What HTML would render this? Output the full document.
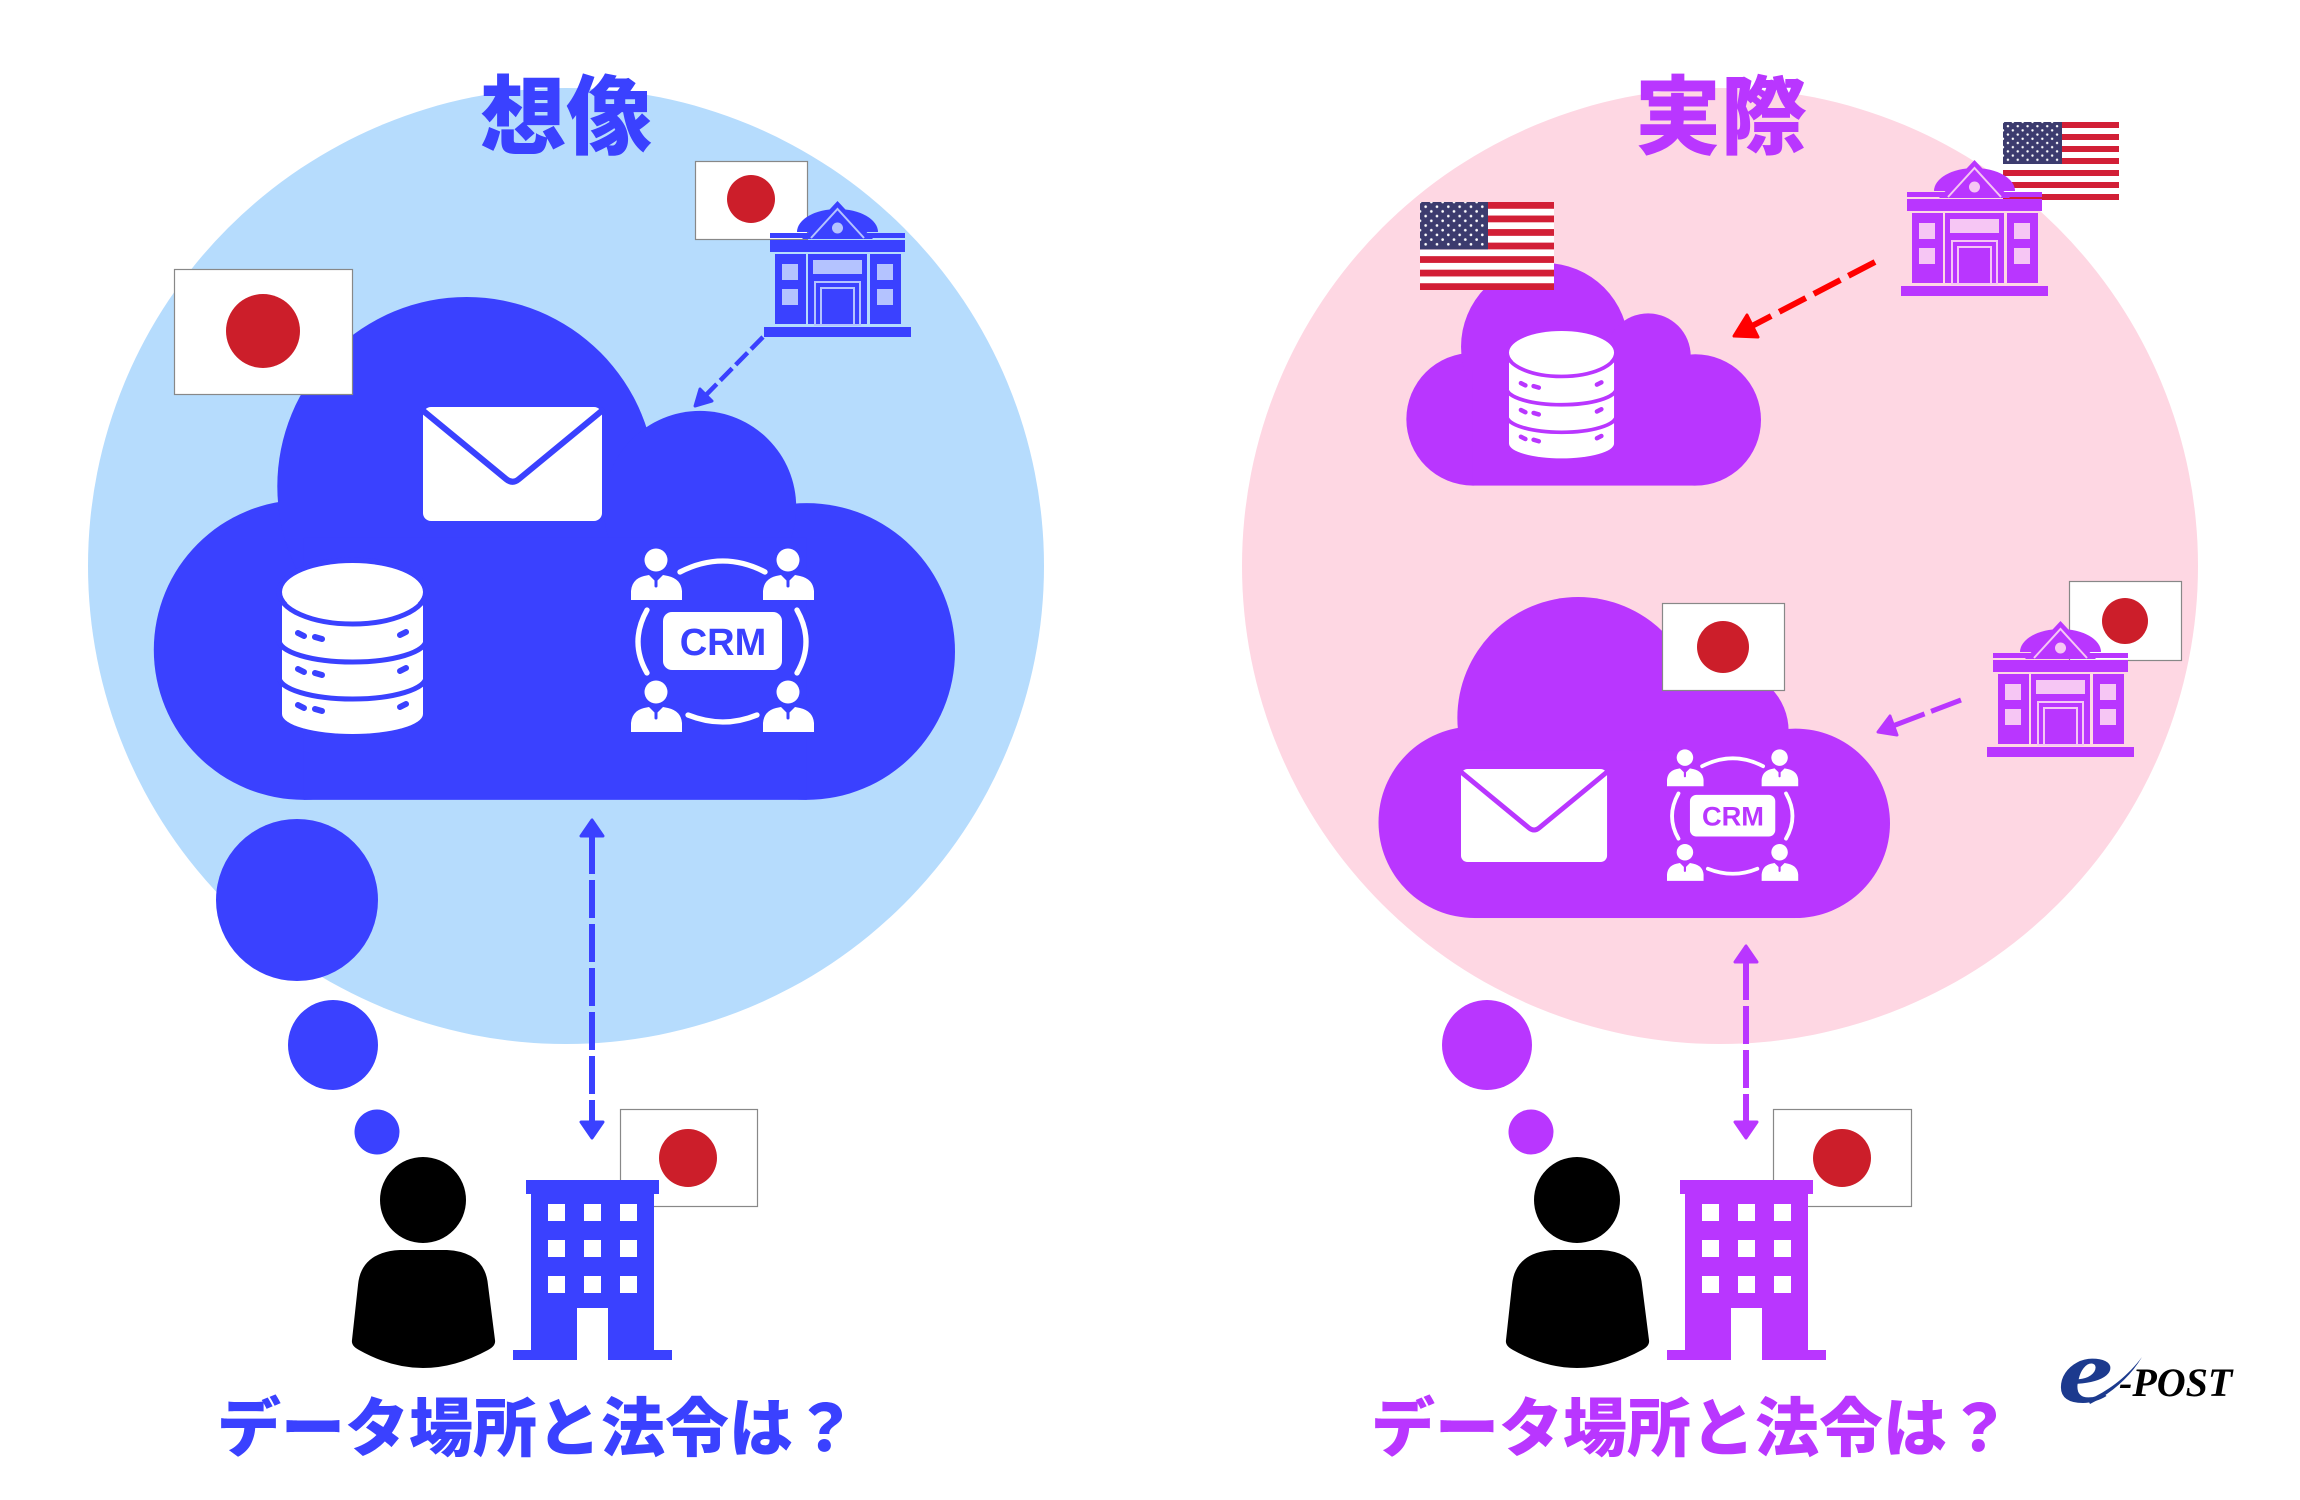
<!DOCTYPE html>
<html><head><meta charset="utf-8">
<style>
html,body{margin:0;padding:0;background:#fff;width:2300px;height:1500px;overflow:hidden;}
svg{display:block}
</style></head>
<body>
<svg width="2300" height="1500" viewBox="0 0 2300 1500" xmlns="http://www.w3.org/2000/svg">
<defs>
  <pattern id="st1" patternUnits="userSpaceOnUse" x="1422.83" y="204.35" width="11.33" height="9.4">
    <circle cx="2.83" cy="2.35" r="1.3" fill="#fff"/>
    <circle cx="8.5" cy="7.05" r="1.3" fill="#fff"/>
  </pattern>
  <pattern id="st2" patternUnits="userSpaceOnUse" x="2005.46" y="124.1" width="9.83" height="8.4">
    <circle cx="2.46" cy="2.1" r="1.2" fill="#fff"/>
    <circle cx="7.37" cy="6.3" r="1.2" fill="#fff"/>
  </pattern>
</defs>

<!-- background circles -->
<circle cx="566" cy="566" r="478" fill="#b6dcfd"/>
<circle cx="1720" cy="566" r="478" fill="#fed7e3"/>

<!-- titles -->
<text x="566" y="147" text-anchor="middle" font-family="'Liberation Sans','Noto Sans CJK JP',sans-serif" font-weight="900" font-size="86" fill="#3a41ff">想像</text>
<text x="1721" y="147" text-anchor="middle" font-family="'Liberation Sans','Noto Sans CJK JP',sans-serif" font-weight="900" font-size="86" fill="#b936ff">実際</text>

<!-- blue cloud -->
<g transform="translate(153,297) scale(0.802)" fill="#3a41ff">
  <circle cx="188" cy="440" r="187"/>
  <circle cx="815" cy="442" r="185"/>
  <circle cx="391" cy="236" r="236"/>
  <circle cx="682" cy="262" r="120"/>
  <rect x="188" y="300" width="627" height="327"/>
</g>
<!-- pink top cloud -->
<g transform="translate(1406,263) scale(0.355)" fill="#b936ff">
  <circle cx="188" cy="440" r="187"/>
  <circle cx="815" cy="442" r="185"/>
  <circle cx="391" cy="236" r="236"/>
  <circle cx="682" cy="262" r="120"/>
  <rect x="188" y="300" width="627" height="327"/>
</g>
<!-- pink bottom cloud -->
<g transform="translate(1378,597) scale(0.512)" fill="#b936ff">
  <circle cx="188" cy="440" r="187"/>
  <circle cx="815" cy="442" r="185"/>
  <circle cx="391" cy="236" r="236"/>
  <circle cx="682" cy="262" r="120"/>
  <rect x="188" y="300" width="627" height="327"/>
</g>

<!-- envelope blue -->
<g transform="translate(423,407)">
  <rect x="0" y="0" width="179" height="114" rx="8" fill="#fff"/>
  <path d="M-2 2 L83 72 Q89.5 77.5 96 72 L181 2" stroke="#3a41ff" stroke-width="6" fill="none"/>
</g>
<!-- envelope pink -->
<g transform="translate(1461,769) scale(0.816)">
  <rect x="0" y="0" width="179" height="114" rx="8" fill="#fff"/>
  <path d="M-2 2 L83 72 Q89.5 77.5 96 72 L181 2" stroke="#b936ff" stroke-width="6" fill="none"/>
</g>

<!-- database blue -->
<g transform="translate(282,563)">
  <path d="M0 40 L0 151 A70.5 20 0 0 0 141 151 L141 40 Z" fill="#fff"/>
  <ellipse cx="70.5" cy="29" rx="70.5" ry="29" fill="#fff"/>
  <g fill="none" stroke="#3a41ff" stroke-width="5">
    <ellipse cx="70.5" cy="29" rx="73.5" ry="32"/>
    <path d="M-3 77 A73.5 22 0 0 0 144 77"/>
    <path d="M-3 114 A73.5 22 0 0 0 144 114"/>
  </g>
  <g stroke="#3a41ff" stroke-width="6" stroke-linecap="round">
    <line x1="16" y1="70" x2="22" y2="73"/><line x1="33" y1="74" x2="40" y2="76"/><line x1="118" y1="72" x2="124" y2="69"/>
    <line x1="16" y1="106" x2="22" y2="109"/><line x1="33" y1="110" x2="40" y2="112"/><line x1="118" y1="108" x2="124" y2="105"/>
    <line x1="16" y1="142" x2="22" y2="145"/><line x1="33" y1="146" x2="40" y2="148"/><line x1="118" y1="144" x2="124" y2="141"/>
  </g>
</g>
<!-- database pink -->
<g transform="translate(1509,331) scale(0.745)">
  <path d="M0 40 L0 151 A70.5 20 0 0 0 141 151 L141 40 Z" fill="#fff"/>
  <ellipse cx="70.5" cy="29" rx="70.5" ry="29" fill="#fff"/>
  <g fill="none" stroke="#b936ff" stroke-width="5">
    <ellipse cx="70.5" cy="29" rx="73.5" ry="32"/>
    <path d="M-3 77 A73.5 22 0 0 0 144 77"/>
    <path d="M-3 114 A73.5 22 0 0 0 144 114"/>
  </g>
  <g stroke="#b936ff" stroke-width="6" stroke-linecap="round">
    <line x1="16" y1="70" x2="22" y2="73"/><line x1="33" y1="74" x2="40" y2="76"/><line x1="118" y1="72" x2="124" y2="69"/>
    <line x1="16" y1="106" x2="22" y2="109"/><line x1="33" y1="110" x2="40" y2="112"/><line x1="118" y1="108" x2="124" y2="105"/>
    <line x1="16" y1="142" x2="22" y2="145"/><line x1="33" y1="146" x2="40" y2="148"/><line x1="118" y1="144" x2="124" y2="141"/>
  </g>
</g>

<!-- CRM blue -->
<g transform="translate(631,548)">
  <g fill="#fff">
    <circle cx="25" cy="12" r="11.5"/>
    <path d="M0 52 L0 43 Q1 31 13 28 L18 27 L25 34 L32 27 L37 28 Q50 31 51 43 L51 52 Z"/>
    <g transform="translate(132,0)"><circle cx="25" cy="12" r="11.5"/><path d="M0 52 L0 43 Q1 31 13 28 L18 27 L25 34 L32 27 L37 28 Q50 31 51 43 L51 52 Z"/></g>
    <g transform="translate(0,132)"><circle cx="25" cy="12" r="11.5"/><path d="M0 52 L0 43 Q1 31 13 28 L18 27 L25 34 L32 27 L37 28 Q50 31 51 43 L51 52 Z"/></g>
    <g transform="translate(132,132)"><circle cx="25" cy="12" r="11.5"/><path d="M0 52 L0 43 Q1 31 13 28 L18 27 L25 34 L32 27 L37 28 Q50 31 51 43 L51 52 Z"/></g>
    <rect x="32" y="64" width="119" height="58" rx="9"/>
  </g>
  <g stroke="#3a41ff" stroke-width="3" stroke-linecap="round">
    <line x1="25" y1="33" x2="25" y2="38"/><line x1="157" y1="33" x2="157" y2="38"/>
    <line x1="25" y1="165" x2="25" y2="170"/><line x1="157" y1="165" x2="157" y2="170"/>
  </g>
  <g fill="none" stroke="#fff" stroke-width="5.3" stroke-linecap="round">
    <path d="M49 24 Q92 2 134 24"/>
    <path d="M57 167 Q92 181 126 167"/>
    <path d="M16 62 Q-2 94 16 125"/>
    <path d="M166 62 Q184 94 166 125"/>
  </g>
  <text x="92" y="107" text-anchor="middle" font-family="'Liberation Sans',sans-serif" font-weight="bold" font-size="38" fill="#3a41ff">CRM</text>
</g>
<!-- CRM pink -->
<g transform="translate(1667,749) scale(0.717)">
  <g fill="#fff">
    <circle cx="25" cy="12" r="11.5"/>
    <path d="M0 52 L0 43 Q1 31 13 28 L18 27 L25 34 L32 27 L37 28 Q50 31 51 43 L51 52 Z"/>
    <g transform="translate(132,0)"><circle cx="25" cy="12" r="11.5"/><path d="M0 52 L0 43 Q1 31 13 28 L18 27 L25 34 L32 27 L37 28 Q50 31 51 43 L51 52 Z"/></g>
    <g transform="translate(0,132)"><circle cx="25" cy="12" r="11.5"/><path d="M0 52 L0 43 Q1 31 13 28 L18 27 L25 34 L32 27 L37 28 Q50 31 51 43 L51 52 Z"/></g>
    <g transform="translate(132,132)"><circle cx="25" cy="12" r="11.5"/><path d="M0 52 L0 43 Q1 31 13 28 L18 27 L25 34 L32 27 L37 28 Q50 31 51 43 L51 52 Z"/></g>
    <rect x="32" y="64" width="119" height="58" rx="9"/>
  </g>
  <g stroke="#b936ff" stroke-width="3" stroke-linecap="round">
    <line x1="25" y1="33" x2="25" y2="38"/><line x1="157" y1="33" x2="157" y2="38"/>
    <line x1="25" y1="165" x2="25" y2="170"/><line x1="157" y1="165" x2="157" y2="170"/>
  </g>
  <g fill="none" stroke="#fff" stroke-width="5.3" stroke-linecap="round">
    <path d="M49 24 Q92 2 134 24"/>
    <path d="M57 167 Q92 181 126 167"/>
    <path d="M16 62 Q-2 94 16 125"/>
    <path d="M166 62 Q184 94 166 125"/>
  </g>
  <text x="92" y="107" text-anchor="middle" font-family="'Liberation Sans',sans-serif" font-weight="bold" font-size="38" fill="#b936ff">CRM</text>
</g>

<!-- flags on clouds -->
<g>
  <rect x="174.5" y="269.5" width="178" height="125" fill="#fff" stroke="#888" stroke-width="1.2"/>
  <circle cx="263" cy="331" r="37" fill="#cc1e2a"/>
</g>
<g>
  <rect x="1662.5" y="603.5" width="122" height="87" fill="#fff" stroke="#888" stroke-width="1.2"/>
  <circle cx="1723" cy="647" r="26" fill="#cc1e2a"/>
</g>
<!-- US flag 1 -->
<g>
  <rect x="1420" y="202" width="134" height="88" fill="#fff"/>
  <g fill="#d21f36">
    <rect x="1420" y="202" width="134" height="6.77"/>
    <rect x="1420" y="215.54" width="134" height="6.77"/>
    <rect x="1420" y="229.08" width="134" height="6.77"/>
    <rect x="1420" y="242.62" width="134" height="6.77"/>
    <rect x="1420" y="256.15" width="134" height="6.77"/>
    <rect x="1420" y="269.69" width="134" height="6.77"/>
    <rect x="1420" y="283.23" width="134" height="6.77"/>
  </g>
  <rect x="1420" y="202" width="68" height="47.4" fill="#3c3b6e"/>
  <rect x="1420" y="202" width="65" height="45" fill="url(#st1)"/>
</g>

<!-- gov flags -->
<g>
  <rect x="695.5" y="161.5" width="112" height="78" fill="#fff" stroke="#888" stroke-width="1.2"/>
  <circle cx="751" cy="199" r="24" fill="#cc1e2a"/>
</g>
<g>
  <rect x="2069.5" y="581.5" width="112" height="79" fill="#fff" stroke="#888" stroke-width="1.2"/>
  <circle cx="2125" cy="621" r="23" fill="#cc1e2a"/>
</g>
<!-- US flag 2 -->
<g>
  <rect x="2003" y="122" width="116" height="78" fill="#fff"/>
  <g fill="#d21f36">
    <rect x="2003" y="122" width="116" height="6"/>
    <rect x="2003" y="134" width="116" height="6"/>
    <rect x="2003" y="146" width="116" height="6"/>
    <rect x="2003" y="158" width="116" height="6"/>
    <rect x="2003" y="170" width="116" height="6"/>
    <rect x="2003" y="182" width="116" height="6"/>
    <rect x="2003" y="194" width="116" height="6"/>
  </g>
  <rect x="2003" y="122" width="59" height="42" fill="#3c3b6e"/>
  <rect x="2003" y="122" width="57" height="40" fill="url(#st2)"/>
</g>

<!-- government buildings -->
<g transform="translate(764,201)">
  <g fill="#3a41ff">
    <path d="M33 31 A40.5 23 0 0 1 114 31 Z"/>
    <rect x="6" y="32" width="135" height="5"/>
    <rect x="6" y="39" width="135" height="12"/>
    <polygon points="73.5,0 38,38 109,38"/>
    <rect x="11" y="53" width="31" height="70"/>
    <rect x="44" y="53" width="59" height="70"/>
    <rect x="106" y="53" width="31" height="70"/>
    <rect x="0" y="126" width="147" height="10"/>
  </g>
  <g fill="#b4c3ff">
    <rect x="18" y="63" width="16" height="16"/><rect x="18" y="88" width="16" height="16"/>
    <rect x="113" y="63" width="16" height="16"/><rect x="113" y="88" width="16" height="16"/>
    <rect x="49" y="59" width="49" height="14"/>
    <circle cx="73.5" cy="27" r="5.5"/>
  </g>
  <g fill="none" stroke="#b4c3ff" stroke-width="2">
    <polyline points="47,37 73.5,8 100,37"/>
    <rect x="51" y="81" width="45" height="43"/>
    <rect x="57" y="87" width="33" height="37"/>
  </g>
</g>
<g transform="translate(1901,160)">
  <g fill="#b936ff">
    <path d="M33 31 A40.5 23 0 0 1 114 31 Z"/>
    <rect x="6" y="32" width="135" height="5"/>
    <rect x="6" y="39" width="135" height="12"/>
    <polygon points="73.5,0 38,38 109,38"/>
    <rect x="11" y="53" width="31" height="70"/>
    <rect x="44" y="53" width="59" height="70"/>
    <rect x="106" y="53" width="31" height="70"/>
    <rect x="0" y="126" width="147" height="10"/>
  </g>
  <g fill="#f6c6f4">
    <rect x="18" y="63" width="16" height="16"/><rect x="18" y="88" width="16" height="16"/>
    <rect x="113" y="63" width="16" height="16"/><rect x="113" y="88" width="16" height="16"/>
    <rect x="49" y="59" width="49" height="14"/>
    <circle cx="73.5" cy="27" r="5.5"/>
  </g>
  <g fill="none" stroke="#f6c6f4" stroke-width="2">
    <polyline points="47,37 73.5,8 100,37"/>
    <rect x="51" y="81" width="45" height="43"/>
    <rect x="57" y="87" width="33" height="37"/>
  </g>
</g>
<g transform="translate(1987,621)">
  <g fill="#b936ff">
    <path d="M33 31 A40.5 23 0 0 1 114 31 Z"/>
    <rect x="6" y="32" width="135" height="5"/>
    <rect x="6" y="39" width="135" height="12"/>
    <polygon points="73.5,0 38,38 109,38"/>
    <rect x="11" y="53" width="31" height="70"/>
    <rect x="44" y="53" width="59" height="70"/>
    <rect x="106" y="53" width="31" height="70"/>
    <rect x="0" y="126" width="147" height="10"/>
  </g>
  <g fill="#f6c6f4">
    <rect x="18" y="63" width="16" height="16"/><rect x="18" y="88" width="16" height="16"/>
    <rect x="113" y="63" width="16" height="16"/><rect x="113" y="88" width="16" height="16"/>
    <rect x="49" y="59" width="49" height="14"/>
    <circle cx="73.5" cy="27" r="5.5"/>
  </g>
  <g fill="none" stroke="#f6c6f4" stroke-width="2">
    <polyline points="47,37 73.5,8 100,37"/>
    <rect x="51" y="81" width="45" height="43"/>
    <rect x="57" y="87" width="33" height="37"/>
  </g>
</g>

<!-- diagonal arrows -->
<line x1="763" y1="337" x2="706" y2="395" stroke="#3a41ff" stroke-width="4.5" stroke-dasharray="17 5"/>
<polygon points="695,406 700,389 712,401" fill="#3a41ff" stroke="#3a41ff" stroke-width="3" stroke-linejoin="round"/>

<line x1="1875" y1="262" x2="1752" y2="326" stroke="#ff0000" stroke-width="6" stroke-dasharray="30 9"/>
<polygon points="1734,336 1747,315 1758,337" fill="#ff0000" stroke="#ff0000" stroke-width="3" stroke-linejoin="round"/>

<line x1="1961" y1="700" x2="1894" y2="725.5" stroke="#b936ff" stroke-width="5" stroke-dasharray="32 7"/>
<polygon points="1878,732 1890,716 1897,735" fill="#b936ff" stroke="#b936ff" stroke-width="3" stroke-linejoin="round"/>

<!-- vertical arrows -->
<line x1="592" y1="836" x2="592" y2="1122" stroke="#3a41ff" stroke-width="6" stroke-dasharray="38 6"/>
<polygon points="592,820 581,836 603,836" fill="#3a41ff" stroke="#3a41ff" stroke-width="3" stroke-linejoin="round"/>
<polygon points="592,1138 581,1122 603,1122" fill="#3a41ff" stroke="#3a41ff" stroke-width="3" stroke-linejoin="round"/>

<line x1="1746" y1="962" x2="1746" y2="1122" stroke="#b936ff" stroke-width="6" stroke-dasharray="38 6"/>
<polygon points="1746,946 1735,962 1757,962" fill="#b936ff" stroke="#b936ff" stroke-width="3" stroke-linejoin="round"/>
<polygon points="1746,1138 1735,1122 1757,1122" fill="#b936ff" stroke="#b936ff" stroke-width="3" stroke-linejoin="round"/>

<!-- thought bubbles -->
<circle cx="297" cy="900" r="81" fill="#3a41ff"/>
<circle cx="333" cy="1045" r="45" fill="#3a41ff"/>
<circle cx="377" cy="1132" r="22.5" fill="#3a41ff"/>
<circle cx="1487" cy="1045" r="45" fill="#b936ff"/>
<circle cx="1531" cy="1132" r="22.5" fill="#b936ff"/>

<!-- persons -->
<g fill="#000">
  <circle cx="423" cy="1200" r="43"/>
  <path d="M400 1250 L447 1250 Q485 1252 488 1285 L495 1340 Q496 1346 488 1350 Q455 1368 423 1368 Q391 1368 359 1350 Q351 1346 352 1340 L358 1285 Q361 1252 400 1250 Z"/>
  <circle cx="1577" cy="1200" r="43"/>
  <path d="M1554 1250 L1601 1250 Q1639 1252 1642 1285 L1649 1340 Q1650 1346 1642 1350 Q1609 1368 1577 1368 Q1545 1368 1513 1350 Q1505 1346 1506 1340 L1512 1285 Q1515 1252 1554 1250 Z"/>
</g>

<!-- office flags -->
<g>
  <rect x="620.5" y="1109.5" width="137" height="97" fill="#fff" stroke="#888" stroke-width="1.2"/>
  <circle cx="688" cy="1158" r="29" fill="#cc1e2a"/>
</g>
<g>
  <rect x="1773.5" y="1109.5" width="138" height="97" fill="#fff" stroke="#888" stroke-width="1.2"/>
  <circle cx="1842" cy="1158" r="29" fill="#cc1e2a"/>
</g>

<!-- office buildings -->
<g>
  <g fill="#3a41ff">
    <rect x="526" y="1180" width="133" height="14"/>
    <rect x="531" y="1194" width="123" height="156"/>
    <rect x="513" y="1350" width="159" height="10"/>
  </g>
  <g fill="#fff">
    <rect x="548" y="1204" width="17" height="17"/><rect x="584" y="1204" width="17" height="17"/><rect x="620" y="1204" width="17" height="17"/>
    <rect x="548" y="1240" width="17" height="17"/><rect x="584" y="1240" width="17" height="17"/><rect x="620" y="1240" width="17" height="17"/>
    <rect x="548" y="1276" width="17" height="17"/><rect x="584" y="1276" width="17" height="17"/><rect x="620" y="1276" width="17" height="17"/>
    <rect x="577" y="1308" width="31" height="53"/>
  </g>
</g>
<g transform="translate(1154,0)">
  <g fill="#b936ff">
    <rect x="526" y="1180" width="133" height="14"/>
    <rect x="531" y="1194" width="123" height="156"/>
    <rect x="513" y="1350" width="159" height="10"/>
  </g>
  <g fill="#fff">
    <rect x="548" y="1204" width="17" height="17"/><rect x="584" y="1204" width="17" height="17"/><rect x="620" y="1204" width="17" height="17"/>
    <rect x="548" y="1240" width="17" height="17"/><rect x="584" y="1240" width="17" height="17"/><rect x="620" y="1240" width="17" height="17"/>
    <rect x="548" y="1276" width="17" height="17"/><rect x="584" y="1276" width="17" height="17"/><rect x="620" y="1276" width="17" height="17"/>
    <rect x="577" y="1308" width="31" height="53"/>
  </g>
</g>

<!-- bottom texts -->
<text x="217" y="1451" font-family="'Liberation Sans','Noto Sans CJK JP',sans-serif" font-weight="900" font-size="64" fill="#3a41ff">データ場所と法令は？</text>
<text x="1371" y="1451" font-family="'Liberation Sans','Noto Sans CJK JP',sans-serif" font-weight="900" font-size="64" fill="#b936ff">データ場所と法令は？</text>

<!-- e-POST logo -->
<text transform="translate(2058,1402) scale(1.35,1)" x="0" y="0" font-family="'Liberation Serif',serif" font-style="italic" font-weight="bold" font-size="92" fill="#1c3a8e">e</text>
<path d="M2088 1400 C2108 1391 2127 1377 2142 1357 C2130 1377 2112 1393 2090 1404 Z" fill="#1c3a8e"/>
<text x="2119" y="1396" font-family="'Liberation Serif',serif" font-style="italic" font-weight="bold" font-size="40" fill="#000">-POST</text>
</svg>
</body></html>
